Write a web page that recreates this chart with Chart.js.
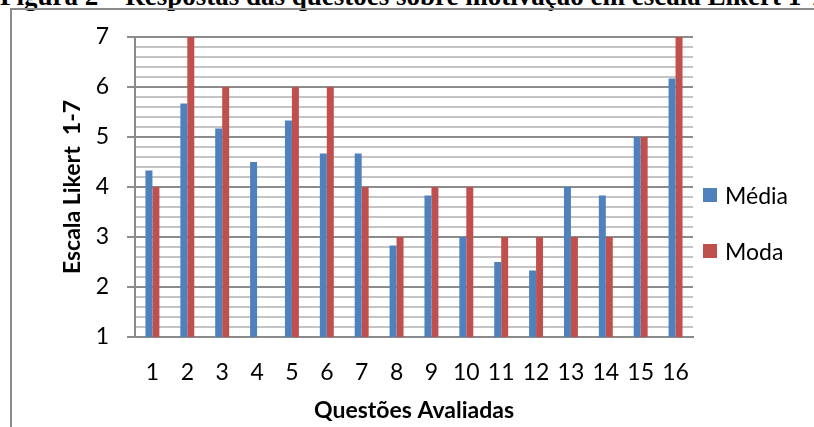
<!DOCTYPE html>
<html><head><meta charset="utf-8">
<script src="https://cdn.jsdelivr.net/npm/chart.js@4/dist/chart.umd.min.js"></script>
<style>
html,body{margin:0;padding:0;background:#fff;}
#wrap{position:relative;width:814px;height:427px;overflow:hidden;background:#fff;}
#cap{position:absolute;left:0;top:-17px;font:bold 27px/27px "Liberation Serif",serif;white-space:nowrap;color:#000;}
#frame{position:absolute;left:10px;top:8px;width:900px;height:600px;border:2px solid #8a8a8a;}
#chart{position:absolute;left:0;top:0;}
.leg{position:absolute;left:703px;height:28px;font:23px Lato,sans-serif;color:#000;white-space:nowrap;}
.leg span.sw{position:absolute;left:0;top:7px;width:14px;height:14px;}
.leg span.tx{position:absolute;left:22px;top:0;line-height:28px;}
</style></head>
<body>
<div id="wrap">
  <div id="cap">Figura 2 – Respostas das questões sobre motivação em escala Likert 1-7</div>
  <div id="frame"></div>
  <canvas id="chart" width="814" height="427"></canvas>
  <div class="leg" style="top:181px"><span class="sw" style="background:#4F81BD"></span><span class="tx">Média</span></div>
  <div class="leg" style="top:237px"><span class="sw" style="background:#C0504D"></span><span class="tx">Moda</span></div>
</div>
<script>
const categories = ['1','2','3','4','5','6','7','8','9','10','11','12','13','14','15','16'];
const mediaValues = [4.33,5.67,5.17,4.5,5.33,4.67,4.67,2.83,3.83,3.0,2.5,2.33,4.0,3.83,5.0,6.17];
const modaValues = [4,7,6,null,6,6,4,3,4,4,3,3,3,3,5,7];
const yTickLabels = ['1','2','3','4','5','6','7'];
const seriesNames = ['Média','Moda'];
const xTitle = 'Questões Avaliadas';
const yTitle = 'Escala Likert  1-7';

const isMajor = v => Math.abs(v - Math.round(v)) < 1e-6;

new Chart(document.getElementById('chart'), {
  type: 'bar',
  data: {
    labels: categories,
    datasets: [
      {label: seriesNames[0], data: mediaValues, backgroundColor: '#4F81BD', categoryPercentage: 0.4, barPercentage: 1.0},
      {label: seriesNames[1], data: modaValues, backgroundColor: '#C0504D', categoryPercentage: 0.4, barPercentage: 1.0}
    ]
  },
  options: {
    responsive: false,
    animation: false,
    devicePixelRatio: 1,
    layout: {padding: {left: 50, top: 37, right: 121, bottom: 0}},
    plugins: {legend: {display: false}, tooltip: {enabled: false}},
    scales: {
      x: {
        grid: {display: false, drawTicks: false},
        border: {display: true, color: '#8a8a8a', width: 2},
        ticks: {color: '#000', font: {family: 'Lato', size: 23}, padding: 22, maxRotation: 0, autoSkip: false},
        title: {display: true, text: xTitle, color: '#000', font: {family: 'Lato', size: 23, weight: 'bold'}, padding: {top: 0, bottom: 3}},
        afterFit: s => { s.height = 90; }
      },
      y: {
        min: 1, max: 7,
        grid: {
          color: c => isMajor(c.tick.value) ? '#8c8c8c' : '#c4c4c4',
          lineWidth: 2,
          tickColor: c => isMajor(c.tick.value) ? '#8c8c8c' : 'rgba(0,0,0,0)',
          tickLength: 8
        },
        border: {display: true, color: '#8a8a8a', width: 2},
        ticks: {
          stepSize: 0.2, autoSkip: false, color: '#000', padding: 18,
          font: {family: 'Lato', size: 23},
          callback: v => isMajor(v) ? yTickLabels[Math.round(v) - 1] : ''
        },
        title: {display: true, text: yTitle, color: '#000', font: {family: 'Lato', size: 23, weight: 'bold'}, padding: {top: 9, bottom: 0}},
        afterFit: s => { s.width = 85; }
      }
    }
  }
});
</script>
</body></html>
